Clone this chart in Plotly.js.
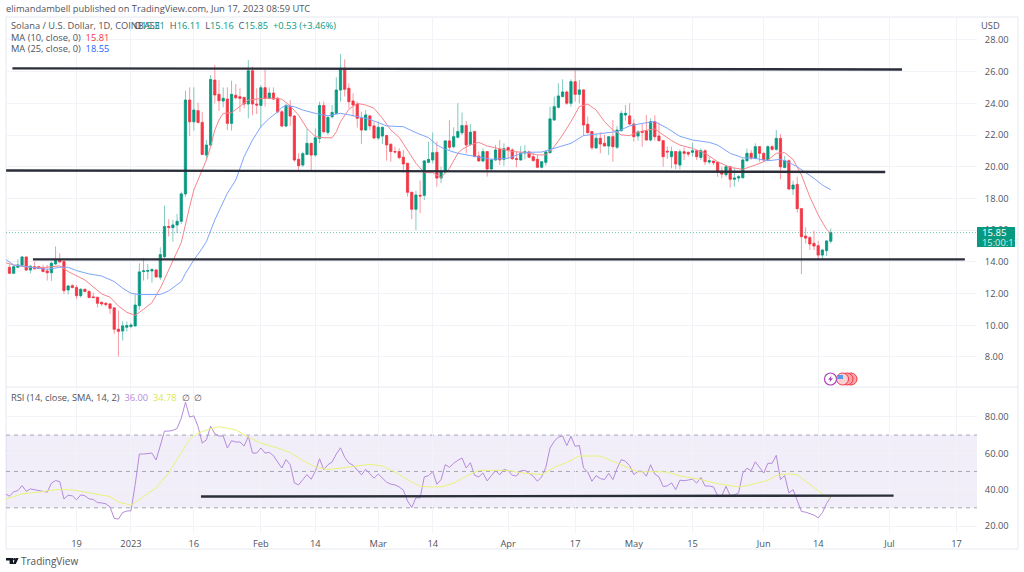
<!DOCTYPE html>
<html><head><meta charset="utf-8">
<script src="https://cdn.plot.ly/plotly-3.0.1.min.js"></script>
<style>html,body{margin:0;padding:0;background:#fff}#c{width:1024px;height:572px}</style></head>
<body><div id="c"></div>
<script>
const candleStart = "2022-12-03";
const opens = [13.66,13.28,13.66,13.79,14.31,13.49,13.70,13.70,13.60,13.43,13.32,13.87,14.14,14.02,12.23,12.50,12.38,11.87,12.27,12.13,11.79,11.77,11.45,11.39,11.35,11.10,9.75,9.64,9.88,9.92,9.96,11.24,13.39,13.41,13.43,13.49,13.03,14.33,16.23,16.16,16.33,16.56,
18.29,24.21,22.84,23.54,22.80,20.74,21.37,25.47,24.57,24.15,24.27,22.74,24.51,24.42,24.38,23.96,26.06,23.96,23.87,24.99,24.32,24.65,24.32,23.47,22.57,23.83,23.20,20.47,20.11,20.78,21.48,20.74,21.79,23.87,22.17,23.16,23.37,24.84,
26.21,24.95,24.15,23.94,23.06,22.32,23.21,22.58,21.82,21.94,21.97,21.42,20.96,20.96,20.60,20.22,18.39,17.32,18.20,18.20,20.28,20.43,20.91,19.29,19.67,21.63,21.27,21.86,22.15,22.60,21.42,22.22,20.68,20.37,20.96,19.86,20.43,21.10,20.47,21.21,21.06,20.51,20.43,20.87,20.94,20.64,20.47,19.97,20.28,20.89,22.95,23.75,24.43,24.72,24.01,25.37,24.57,24.85,22.68,22.22,21.19,21.80,21.48,21.31,21.90,21.23,22.28,23.27,23.21,22.70,21.94,22.22,22.26,21.69,22.85,21.94,21.65,20.98,20.64,20.96,20.11,
20.95,20.91,20.91,21.01,20.59,21.01,20.30,20.36,20.28,19.73,19.50,20.00,19.21,19.29,19.31,20.38,20.85,20.53,21.27,20.85,20.43,21.27,21.10,21.79,19.96,20.38,18.60,18.89,17.36,15.63,15.53,15.17,15.02,14.43,14.71,15.31];
const highs = [13.81,13.75,14.17,14.38,14.33,13.81,14.02,13.75,13.81,13.81,14.02,14.97,14.54,14.17,12.55,12.59,12.55,12.34,12.32,12.23,12.06,11.77,11.49,11.45,11.39,11.10,10.93,10.25,10.23,10.13,11.98,13.91,14.25,13.87,13.60,13.54,14.92,17.55,16.69,16.65,17.03,18.43,
24.80,25.01,25.01,24.04,23.47,21.69,25.79,26.42,25.47,25.01,25.01,25.43,25.22,24.95,24.38,26.73,26.31,24.95,25.16,26.15,25.01,25.01,24.42,23.58,23.96,24.21,23.26,20.85,20.95,22.42,21.48,22.42,24.11,24.11,23.16,23.90,25.64,27.12,
26.78,25.27,24.64,24.11,23.48,23.58,23.27,22.85,22.85,22.53,22.01,21.48,21.27,21.17,21.06,20.26,18.43,18.50,19.13,20.43,21.59,22.16,21.59,20.01,21.69,22.95,22.49,24.01,23.42,22.89,22.70,22.28,20.96,21.17,20.96,20.54,21.38,21.69,21.48,21.27,21.17,20.96,21.31,21.38,21.02,20.85,20.75,20.37,20.98,23.79,24.43,25.27,25.52,24.80,25.52,26.07,25.48,24.89,23.16,22.22,22.11,22.18,22.01,21.94,22.95,22.58,23.54,23.90,24.01,23.00,22.32,22.70,23.27,23.06,23.25,22.79,21.69,21.27,21.27,20.96,21.10,
21.22,20.97,21.52,21.10,21.16,21.10,20.64,20.38,20.32,20.00,20.11,20.05,19.96,19.48,20.53,21.16,21.06,21.48,21.31,20.89,21.37,21.37,22.32,22.07,20.68,20.47,19.12,19.37,17.38,16.18,15.63,15.97,15.32,14.79,15.38,16.11];
const lows = [13.24,13.28,13.60,13.75,13.43,13.28,13.54,13.54,13.35,12.82,12.80,13.81,13.91,11.98,11.94,12.34,11.66,11.75,12.08,11.71,11.71,11.12,11.22,11.18,10.72,9.45,8.03,9.03,9.60,9.81,9.92,10.97,12.82,12.90,12.69,13.01,12.86,14.23,15.60,15.28,15.81,16.39,
18.10,21.94,22.28,22.74,20.74,20.47,21.27,24.00,23.52,23.75,22.32,22.28,24.25,23.47,23.69,23.05,23.26,23.33,22.47,23.79,24.25,24.21,23.37,22.49,22.49,22.57,20.32,19.75,20.00,20.74,19.75,20.64,21.48,22.11,22.00,23.05,23.33,24.11,
24.43,23.69,23.16,22.47,21.44,22.28,22.32,21.73,21.69,21.44,20.39,20.32,20.85,20.47,19.63,18.12,16.69,16.01,17.07,17.91,20.22,20.22,18.75,18.96,19.59,21.06,21.17,21.80,22.01,20.85,21.33,20.60,20.32,20.28,19.38,19.80,20.39,20.11,20.05,20.49,20.43,19.97,20.39,20.47,20.54,20.32,19.90,19.90,20.07,20.85,22.91,23.69,24.38,23.90,23.79,24.11,24.01,21.97,22.11,21.06,21.14,20.85,21.31,20.75,20.32,21.12,22.22,22.91,22.62,21.59,21.65,21.27,21.65,21.59,21.65,21.59,20.01,20.50,19.90,19.84,19.84,
20.43,20.64,20.64,20.43,20.43,20.11,20.17,20.11,19.37,19.27,19.37,18.70,18.74,19.06,19.27,20.32,20.43,20.47,20.32,20.32,20.38,21.01,21.01,19.21,19.90,18.53,18.22,17.10,13.23,15.17,14.75,14.75,14.12,14.18,14.37,15.16];
const closes = [13.28,13.70,13.81,14.31,13.49,13.72,13.56,13.58,13.39,13.32,13.91,14.10,14.00,12.19,12.48,12.38,11.87,12.27,12.13,11.75,11.75,11.39,11.35,11.31,11.07,9.75,9.62,9.96,9.98,10.02,11.28,13.37,13.43,13.45,13.51,13.05,14.46,16.23,16.18,16.33,16.56,18.29,
24.21,22.84,23.58,22.80,20.78,21.37,25.51,24.53,24.17,24.32,22.74,24.57,24.36,24.32,23.96,26.06,23.96,23.90,24.99,24.32,24.65,24.27,23.47,22.57,23.87,23.20,20.43,20.07,20.83,21.48,20.74,21.83,23.87,22.21,23.12,23.43,24.84,26.21,
24.89,24.11,23.90,23.06,22.32,23.27,22.58,21.82,22.49,22.49,21.38,20.96,20.94,20.58,20.18,18.39,17.32,18.22,18.16,20.37,20.47,20.89,19.29,19.69,21.63,21.23,21.90,22.22,22.60,21.38,22.18,20.64,20.37,20.96,19.86,20.43,21.06,20.43,21.14,21.06,20.51,20.47,20.87,20.94,20.60,20.39,19.97,20.32,20.94,23.02,23.79,24.47,24.72,24.01,25.37,24.57,24.85,22.64,22.15,21.21,21.80,21.44,21.31,21.90,21.27,22.32,23.37,23.37,22.70,21.90,22.20,22.18,21.69,22.85,21.90,21.65,20.64,20.94,20.96,20.18,20.95,
20.85,20.80,21.01,20.64,21.01,20.32,20.38,20.26,19.65,19.54,20.00,19.21,19.29,19.37,20.43,20.85,20.57,21.27,20.85,20.43,21.27,21.10,21.79,20.00,20.38,18.60,18.85,17.36,15.59,15.50,15.13,15.00,14.43,14.75,15.32,15.85];

const rsiStart = "2022-12-02";
const rsiValues = [37.7,36.4,38.8,39.5,42.2,39.1,40.4,39.9,39.7,38.8,38.6,43.5,45.0,44.4,34.9,36.9,36.6,34.4,37.1,36.6,34.9,34.6,32.9,32.7,32.2,30.5,24.2,23.8,27.4,28.2,28.4,42.8,59.6,59.6,59.8,60.1,56.3,64.7,72.2,72.2,72.6,73.7,79.3,88.1,79.9,80.6,74.7,65.6,67.4,74.9,70.7,69.5,69.5,62.9,66.9,66.2,66.2,64.0,69.3,60.1,60.1,62.9,60.1,60.5,58.7,55.2,51.9,56.5,53.7,43.7,42.6,45.5,48.3,45.7,50.1,57.0,51.0,53.7,55.2,59.6,63.0,57.8,54.7,53.4,50.5,48.1,51.2,49.0,46.3,48.6,46.4,44.1,43.0,42.6,41.5,39.7,33.7,30.2,35.5,35.5,47.0,47.7,49.9,43.0,45.5,53.7,52.3,54.5,56.1,57.4,51.9,54.8,47.9,47.0,49.2,44.8,47.7,50.5,48.1,51.2,50.5,47.9,47.5,50.3,50.6,48.8,47.4,44.6,47.0,52.3,62.9,66.5,68.9,69.5,64.2,69.3,63.8,64.3,51.9,49.7,44.6,47.7,46.1,45.5,49.0,45.5,51.6,56.5,55.6,53.2,48.3,50.1,50.1,47.4,53.7,48.6,47.0,41.7,42.1,43.7,40.0,45.2,44.9,45.3,45.8,43.6,46.7,42.0,42.0,41.5,36.7,36.7,41.8,36.7,37.1,38.2,49.1,51.8,50.4,55.3,52.4,49.1,54.5,54.5,58.9,45.5,47.8,38.2,40.0,33.6,28.0,27.6,26.7,26.0,24.5,27.3,32.4,36.0];

/* day offsets count from 1 Jan 2023 */
const rsiMaDays = [-30,-26,-22,-18,-14,-10,-5,-3,0,2,6,9,12,14,16,19,21,25,28,31,35,38,41,44,47,50,54,57,60,63,66,69,71,74,77,80,83,87,90,93,98,101,104,107,112,115,118,121,124,128,131,135,140,143,145,147,150,152,154,157,159,161,163,165,167];
const rsiMaValues = [34.7,37.7,38.6,40.0,39.9,38.2,36.2,33.1,31.5,34.6,41.0,49.2,60.1,67.8,71.1,73.5,74.6,72.9,68.9,65.6,62.9,60.5,56.0,52.5,51.0,51.9,53.4,53.9,53.0,49.7,45.5,41.9,41.5,41.5,43.5,47.4,50.6,50.8,50.6,49.2,48.3,52.3,55.0,58.5,58.5,55.6,52.8,49.7,49.9,49.7,47.5,46.0,43.3,42.2,41.5,42.2,43.8,45.1,47.8,48.7,48.2,44.5,40.9,37.6,34.78];

const ma10Days = [-30,-28,-24,-21,-17,-15,-11,-9,-7,-5,-3,-1,1,3,5,7,9,11,12,14,15,17,18,19,20,21,22,24,26,28,30,32,34,36,38,40,42,44,46,48,49,50,52,54,56,58,60,62,64,66,68,70,72,74,76,78,79,81,83,85,88,91,94,97,99,101,103,105,107,109,111,113,115,117,119,122,125,127,129,131,134,137,140,143,146,149,152,154,156,158,160,162,164,166,167];
const ma10Values = [13.96,13.79,13.66,13.64,13.75,13.39,12.86,12.44,11.98,11.77,11.22,10.82,10.63,11.01,11.43,12.34,13.49,14.65,15.22,17.49,18.54,19.80,20.43,21.27,22.32,22.95,23.37,23.41,23.79,24.21,24.27,24.32,24.32,24.27,23.83,23.26,22.42,21.90,21.83,21.83,22.21,22.85,23.63,24.00,23.90,23.69,23.06,22.32,21.86,21.06,20.22,19.63,19.63,19.32,19.90,20.85,21.10,21.38,21.54,21.31,21.12,20.96,20.91,20.75,20.75,21.27,22.01,22.85,23.80,23.96,23.58,22.85,22.32,22.01,21.97,22.26,22.39,22.01,21.65,21.37,21.16,20.85,20.32,19.96,19.84,20.11,20.43,20.85,20.89,20.47,19.48,18.11,16.96,16.05,15.81];

const ma25Days = [-30,-28,-24,-20,-17,-15,-13,-10,-7,-4,-2,0,2,5,7,9,12,13,15,17,18,20,22,23,25,27,29,31,33,35,36,37,39,41,44,47,50,53,57,61,63,65,68,71,73,75,78,82,86,90,94,98,101,105,108,112,116,119,122,125,128,131,134,138,140,143,146,149,152,155,157,159,161,163,165,167];
const ma25Values = [14.17,13.81,13.66,13.53,13.66,13.66,13.45,13.24,13.11,12.76,12.34,12.02,11.94,11.94,11.94,12.17,12.76,13.28,14.12,14.86,15.28,16.65,17.80,18.33,19.16,20.64,21.69,22.53,23.05,23.47,23.75,23.85,23.79,23.58,23.37,23.22,23.37,23.23,22.99,22.58,22.55,22.53,22.15,21.84,21.38,21.10,20.85,20.68,20.47,20.54,20.91,20.93,21.17,21.48,21.97,22.11,22.22,22.58,22.74,22.85,22.43,21.92,21.69,21.54,21.37,20.85,20.57,20.53,20.38,20.47,20.28,20.00,19.65,19.27,18.85,18.55];

const trendDays = {top:[-28.3,184], mid:[-29.8,180], low:[-23.4,199], rsi:[16.7,182]};
const trendTop = [26.21,26.14];
const trendMid = [19.77,19.67];
const trendLow = [14.16,14.16];
const trendRsi = [36.2,36.7];

const xTickDays = [-13,0,15,31,44,59,72,90,106,120,134,151,164,181,197];
const xTickText = ["19","2023","16","Feb","14","Mar","14","Apr","17","May","15","Jun","14","Jul","17"];
const priceTicks = [8,10,12,14,16,18,20,22,24,26,28];
const rsiTicks = [20,40,60,80];

const GREEN="#089981", RED="#f23645", GREY="#50535e", FONT='"Open Sans", sans-serif';
const JAN1 = Date.UTC(2023,0,1), DAY=864e5;
const iso = d => new Date(JAN1 + d*DAY).toISOString();
const seq = (start,n) => { const t0=Date.parse(start+"T00:00:00Z"); return Array.from({length:n},(_,i)=>new Date(t0+i*DAY).toISOString()); };
const candleX = seq(candleStart, closes.length);
const rsiX = seq(rsiStart, rsiValues.length);

const W=1024,H=572;
const px = x => x/W, py = y => 1-y/H;
const line=(days,vals,color,width,yaxis)=>({type:"scatter",mode:"lines",x:days.map(iso),y:vals,yaxis:yaxis||"y",line:{color,width,shape:"linear"},hoverinfo:"skip",showlegend:false});

const traces=[
 {type:"candlestick",x:candleX,open:opens,high:highs,low:lows,close:closes,whiskerwidth:0,
  increasing:{line:{color:"rgba(8,153,129,0.5)",width:1},fillcolor:"rgba(0,0,0,0)"},
  decreasing:{line:{color:"rgba(242,54,69,0.5)",width:1},fillcolor:"rgba(0,0,0,0)"},hoverinfo:"skip",showlegend:false},
 {type:"candlestick",x:candleX,open:opens,close:closes,
  high:opens.map((o,i)=>Math.max(o,closes[i])),low:opens.map((o,i)=>Math.min(o,closes[i])),whiskerwidth:0,
  increasing:{line:{color:GREEN,width:0.5},fillcolor:GREEN},
  decreasing:{line:{color:RED,width:0.5},fillcolor:RED},hoverinfo:"skip",showlegend:false},
 line(ma10Days,ma10Values,"#f6858c",1),
 line(ma25Days,ma25Values,"#7ea4fb",1),
 line(trendDays.top,trendTop,"#2a2e39",2.4),
 line(trendDays.mid,trendMid,"#2a2e39",2.4),
 line(trendDays.low,trendLow,"#2a2e39",2.4),
 {type:"scatter",mode:"lines",x:rsiX,y:rsiValues,yaxis:"y2",line:{color:"#b48bdc",width:1},hoverinfo:"skip",showlegend:false},
 line(rsiMaDays,rsiMaValues,"#e9f27a",1,"y2"),
 line(trendDays.rsi,trendRsi,"#2a2e39",2.4,"y2")
];

const rect=(x0,y0,x1,y1,o)=>Object.assign({type:"rect",xref:"paper",yref:"paper",x0:px(x0),x1:px(x1),y0:py(y0),y1:py(y1),line:{width:0}},o);
const circ=(cx,cy,r,o)=>Object.assign({type:"circle",xref:"paper",yref:"paper",x0:px(cx-r),x1:px(cx+r),y0:py(cy-r),y1:py(cy+r)},o);
const path=(pts,o)=>Object.assign({type:"path",xref:"paper",yref:"paper",path:"M"+pts.map(p=>px(p[0])+" "+py(p[1])).join("L")+"Z",line:{width:0}},o);

const shapes=[
 rect(6,17,1018,549,{line:{color:"#e6e8ee",width:1},layer:"below"}),
 {type:"line",xref:"paper",yref:"paper",x0:px(6),x1:px(1018),y0:py(387),y1:py(387),line:{color:"#e6e8ee",width:1},layer:"below"},
 {type:"rect",xref:"x",yref:"y2",x0:iso(-29.83),x1:iso(201.9),y0:30,y1:70,fillcolor:"rgba(126,87,194,0.1)",line:{width:0},layer:"below"},
 ...[30,50,70].map(v=>({type:"line",xref:"x",yref:"y2",x0:iso(-29.83),x1:iso(201.9),y0:v,y1:v,line:{color:"#a5a7b0",width:1,dash:"4px,4px"},layer:"below"})),
 {type:"line",xref:"x",yref:"y",x0:iso(-29.83),x1:iso(201.9),y0:closes[closes.length-1],y1:closes[closes.length-1],line:{color:"rgba(8,153,129,0.55)",width:1,dash:"1px,2px"},layer:"below"},
 rect(977,227,1015,247,{fillcolor:GREEN}),
 // event icons
 circ(851,379,6,{fillcolor:"#f9a5ab",line:{color:"#f23645",width:1}}),
 circ(847,379,6,{fillcolor:"#f9a5ab",line:{color:"#f23645",width:1}}),
 circ(842.5,379,6,{fillcolor:"#fbd0d3",line:{color:"#f23645",width:1}}),
 path([[838,375],[843,375],[843,379],[837,379]],{fillcolor:"#5b9be6"}),
 circ(830.5,379,6,{fillcolor:"#ffffff",line:{color:"#ab47bc",width:1.2}}),
 path([[831.5,375.5],[828,379.8],[830.2,379.8],[829.5,382.5],[833,378.2],[830.8,378.2]],{fillcolor:"#ab47bc"}),
 // TradingView mark
 path([[6,558],[13,558],[13,564],[9.6,564],[9.6,560.4],[6,560.4]],{fillcolor:"#131722"}),
 circ(14.4,559.2,1.2,{fillcolor:"#131722",line:{width:0}}),
 path([[15.7,558],[18.6,558],[15.8,564],[12.8,564]],{fillcolor:"#131722"})
];

const ann=(x,y,text,color,size,anchor)=>({xref:"paper",yref:"paper",x:px(x),y:py(y),text,showarrow:false,xanchor:anchor||"left",yanchor:"middle",align:"left",font:{family:FONT,size:size||9,color:color||GREY},borderpad:0,borderwidth:0});
const g=t=>`<span style="color:${GREEN}">${t}</span>`;
const annotations=[
 ann(6,9,"elimandambell published on TradingView.com, Jun 17, 2023 08:59 UTC","#50535e",9.3),
 ann(11,26,"Solana / U.S. Dollar, 1D, COINBASE","#50535e",9.3),
 ann(134,26,`O${g("15.31")}  H${g("16.11")}  L${g("15.16")}  C${g("15.85")}  ${g("+0.53 (+3.46%)")}`,"#50535e",9.3),
 ann(11,37,`MA (10, close, 0)  <span style="color:#f23645">15.81</span>`,"#50535e",9.3),
 ann(11,48,`MA (25, close, 0)  <span style="color:#2962ff">18.55</span>`,"#50535e",9.3),
 ann(11,397,`RSI (14, close, SMA, 14, 2)  <span style="color:#b48bdc">36.00</span>  <span style="color:#dbe85a">34.78</span>  ∅  ∅`,"#50535e",9.3),
 ann(990,25,"USD","#50535e",9.3,"center"),
 ann(982,232.3,"15.85","#ffffff",9.6),
 ann(982,242,"15:00:11","#d2efe9",9.3),
 ann(21,561,"TradingView","#50535e",10)
];

const layout={
 width:W,height:H,margin:{l:0,r:0,t:0,b:0,autoexpand:false},paper_bgcolor:"#fff",plot_bgcolor:"#fff",showlegend:false,hovermode:false,
 boxgap:0.25,boxmode:"overlay",dragmode:false,
 xaxis:{type:"date",domain:[px(6),px(977)],anchor:"y2",range:[iso(-29.83),iso(201.9)],rangeslider:{visible:false},
   tickmode:"array",tickvals:xTickDays.map(iso),ticktext:xTickText,tickangle:0,showgrid:true,gridcolor:"#f2f3f8",gridwidth:1,zeroline:false,showline:false,
   ticks:"outside",ticklen:2,tickcolor:"rgba(0,0,0,0)",tickfont:{family:FONT,size:9.3,color:GREY}},
 yaxis:{domain:[py(387),py(17)],anchor:"x",side:"right",range:[6.107,29.45],tickmode:"array",tickvals:priceTicks,tickformat:".2f",showgrid:true,gridcolor:"#f2f3f8",zeroline:false,showline:false,
   ticks:"outside",ticklen:5,tickcolor:"rgba(0,0,0,0)",tickfont:{family:FONT,size:9.3,color:GREY}},
 yaxis2:{domain:[py(533),py(388)],anchor:"x",side:"right",range:[16.15,95.9],tickmode:"array",tickvals:rsiTicks,tickformat:".2f",showgrid:true,gridcolor:"#f2f3f8",zeroline:false,showline:false,
   ticks:"outside",ticklen:5,tickcolor:"rgba(0,0,0,0)",tickfont:{family:FONT,size:9.3,color:GREY}},
 shapes,annotations
};
Plotly.newPlot("c",traces,layout,{displayModeBar:false,responsive:false});
</script></body></html>
